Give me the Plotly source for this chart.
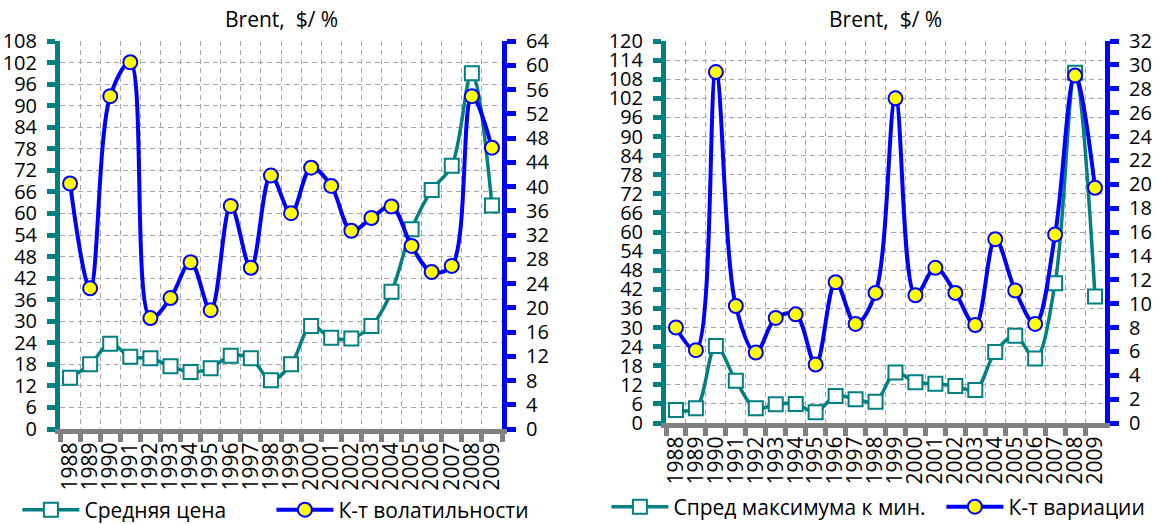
import plotly.graph_objects as go

years = [str(y) for y in range(1988, 2010)]

# Left chart: average price ($, left axis) and volatility coefficient (%, right axis)
avg_price = [14.3, 18.0, 23.7, 20.1, 19.7, 17.5, 15.9, 16.9, 20.4, 19.7, 13.6,
             18.0, 28.7, 25.4, 25.2, 28.7, 38.2, 55.6, 66.5, 73.3, 99.0, 62.2]
volatility = [40.5, 23.2, 54.9, 60.5, 18.3, 21.6, 27.5, 19.6, 36.8, 26.6, 41.8,
              35.6, 43.1, 40.1, 32.7, 34.8, 36.7, 30.2, 25.9, 26.9, 54.9, 46.4]

# Right chart: spread max-min ($, left axis) and variation coefficient (%, right axis)
spread = [4.1, 4.6, 24.2, 13.3, 4.6, 5.9, 6.0, 3.4, 8.5, 7.5, 6.7,
          15.9, 12.8, 12.3, 11.6, 10.4, 22.3, 27.4, 20.3, 43.9, 110.0, 39.7]
variation = [8.0, 6.1, 29.4, 9.8, 5.9, 8.8, 9.1, 4.9, 11.8, 8.3, 10.9,
             27.2, 10.7, 13.0, 10.9, 8.2, 15.4, 11.1, 8.3, 15.8, 29.1, 19.7]

title_text = "Brent,  $/ %"
names_left = ["Средняя цена", "К-т волатильности"]
names_right = ["Спред максимума к мин.", "К-т вариации"]

TEAL = "#008080"
BLUE = "#0000FF"
YELLOW = "#FFFF00"
GRAY = "#808080"
GRID = "#A6A6A6"
FONT = "'Open Sans', sans-serif"
W, H = 1158, 524


def sq_trace(x, y, name, xa, ya, leg):
    return go.Scatter(
        x=x, y=y, name=name, mode="lines+markers", xaxis=xa, yaxis=ya, legend=leg,
        showlegend=True,
        line=dict(color=TEAL, width=3.5, shape="spline"),
        marker=dict(symbol="square", size=14, color="white", line=dict(color=TEAL, width=2)),
        cliponaxis=False,
    )


def circ_trace(x, y, name, xa, ya, leg):
    return go.Scatter(
        x=x, y=y, name=name, mode="lines+markers", xaxis=xa, yaxis=ya, legend=leg,
        showlegend=True,
        line=dict(color=BLUE, width=4, shape="spline"),
        marker=dict(symbol="circle", size=14, color=YELLOW, line=dict(color=BLUE, width=2)),
        cliponaxis=False,
    )


fig = go.Figure()
fig.add_trace(sq_trace(years, avg_price, names_left[0], "x", "y", "legend"))
fig.add_trace(circ_trace(years, volatility, names_left[1], "x", "y2", "legend2"))
fig.add_trace(sq_trace(years, spread, names_right[0], "x2", "y3", "legend3"))
fig.add_trace(circ_trace(years, variation, names_right[1], "x2", "y4", "legend4"))

xl = [60 / W, 502 / W]
xr = [666 / W, 1105 / W]
yl = [1 - 429 / H, 1 - 41 / H]
yr = [1 - 423 / H, 1 - 41 / H]

tickfont = dict(family=FONT, size=20, color="black")
xtickfont = dict(family=FONT, size=21, color="black")


def xaxis(domain, anchor):
    return dict(
        domain=domain, anchor=anchor, type="category", range=[-0.5, 21.5],
        tickmode="linear", tick0=0, dtick=1,
        tickson="boundaries", ticks="outside", ticklen=8, tickwidth=5, tickcolor=GRAY,
        showline=True, linecolor=GRAY, linewidth=5,
        showgrid=True, gridcolor=GRID, gridwidth=1, griddash="5px,4px",
        tickangle=-90, tickfont=xtickfont, automargin=False, fixedrange=True,
    )


def yleft(domain, anchor, rmax):
    return dict(
        domain=domain, anchor=anchor, range=[0, rmax], tickmode="linear", tick0=0, dtick=6,
        showline=True, linecolor=TEAL, linewidth=5, ticks="outside", ticklen=8, tickwidth=5,
        tickcolor=TEAL, showgrid=True, gridcolor=GRID, gridwidth=1, griddash="5px,4px",
        zeroline=False, tickfont=tickfont, ticklabelstandoff=6, automargin=False,
        fixedrange=True,
    )


def yright(overlay, anchor, rmax, dt):
    return dict(
        overlaying=overlay, anchor=anchor, side="right", range=[0, rmax], tickmode="linear",
        tick0=0, dtick=dt, showline=True, linecolor=BLUE, linewidth=5, ticks="outside",
        ticklen=9, tickwidth=5, tickcolor=BLUE, showgrid=False, zeroline=False,
        tickfont=tickfont, ticklabelstandoff=6, automargin=False, fixedrange=True,
    )


def legend(xpx, ypx):
    return dict(orientation="h", x=(xpx - 70.6) / W, y=1 - ypx / H, xanchor="left",
                yanchor="middle", font=dict(family=FONT, size=21), itemwidth=57,
                bgcolor="rgba(0,0,0,0)", visible=True)


fig.update_layout(
    width=W, height=H, margin=dict(l=0, r=0, t=0, b=0, autoexpand=False),
    paper_bgcolor="white", plot_bgcolor="white", showlegend=True,
    font=dict(family=FONT, size=20, color="black"),
    xaxis=xaxis(xl, "y"),
    yaxis=yleft(yl, "x", 108),
    yaxis2=yright("y", "x", 64, 4),
    xaxis2=xaxis(xr, "y3"),
    yaxis3=yleft(yr, "x2", 120),
    yaxis4=yright("y3", "x2", 32, 2),
    legend=legend(88, 510),
    legend2=legend(342, 510),
    legend3=legend(677, 507),
    legend4=legend(1012, 507),
    annotations=[
        dict(text=title_text, x=(xl[0] + xl[1]) / 2, y=1 - 19 / H, xref="paper", yref="paper",
             showarrow=False, font=dict(family=FONT, size=21), xanchor="center", yanchor="middle"),
        dict(text=title_text, x=(xr[0] + xr[1]) / 2, y=1 - 19 / H, xref="paper", yref="paper",
             showarrow=False, font=dict(family=FONT, size=21), xanchor="center", yanchor="middle"),
    ],
)

fig.write_html("out.html", config={"displayModeBar": False},
               post_script="document.body.style.margin='0px';")
